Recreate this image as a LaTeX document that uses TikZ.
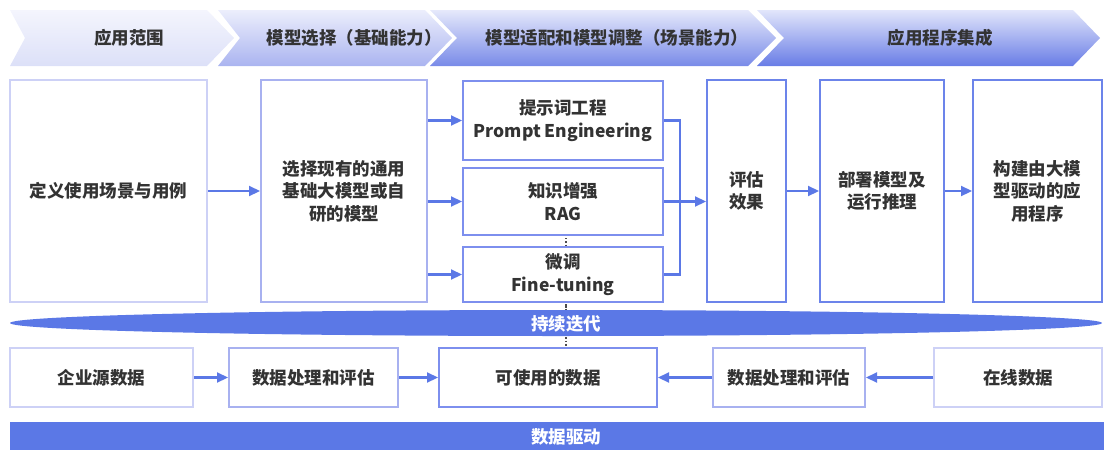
\documentclass[tikz,border=0pt]{standalone}
\usepackage{fontspec}
\setmainfont{Noto Sans CJK SC}
\usetikzlibrary{arrows.meta,calc}
\definecolor{txt}{HTML}{333333}
\definecolor{mainblue}{HTML}{5B78E6}
\definecolor{bdA}{HTML}{CDD1F6}
\definecolor{bdB}{HTML}{A8B1F0}
\definecolor{bdC}{HTML}{7D8FEE}
\definecolor{bdD}{HTML}{6C84EA}
\begin{document}
\begin{tikzpicture}[x=1pt,y=-1pt,
  every node/.style={font=\fontsize{17.5}{22.5}\selectfont\bfseries, text=txt, align=center, inner sep=0pt},
  box/.style={draw=#1, line width=2pt, fill=white, rectangle},
  conn/.style={draw=mainblue, line width=2.2pt},
  arr/.style={conn, -{Triangle[length=11pt,width=10pt]}},
  band/.style={fill=mainblue, draw=none},
  bandtext/.style={text=white, font=\fontsize{17.5}{20}\selectfont\bfseries}
]
\useasboundingbox (0,0) rectangle (1104,450);
% header chevrons
\shade[top color={rgb,255:red,244;green,245;blue,253}, bottom color={rgb,255:red,220;green,224;blue,248}]
  (10,10) -- (207,10) -- (234,38) -- (207,66) -- (10,66) -- (25,38) -- cycle;
\shade[top color={rgb,255:red,236;green,238;blue,252}, bottom color={rgb,255:red,170;green,180;blue,240}]
  (218,10) -- (425,10) -- (452,38) -- (425,66) -- (218,66) -- (240,38) -- cycle;
\shade[top color={rgb,255:red,230;green,233;blue,251}, bottom color={rgb,255:red,120;green,138;blue,232}]
  (430,10) -- (748,10) -- (776,38) -- (748,66) -- (430,66) -- (457,38) -- cycle;
\shade[top color={rgb,255:red,226;green,230;blue,251}, bottom color={rgb,255:red,104;green,124;blue,230}]
  (757,10) -- (1073,10) -- (1100,38) -- (1073,66) -- (757,66) -- (784,38) -- cycle;
\node (h1) at (129,38) {应用范围};
\node (h2) at (354,38) {模型选择（基础能力）};
\node (h3) at (617,38) {模型适配和模型调整（场景能力）};
\node (h4) at (940,38) {应用程序集成};
% bottom bar
\fill[band] (10,422) rectangle (1104,450);
\node[bandtext] (drv) at (566,437) {数据驱动};
% dotted iteration line (behind)
\coordinate (dtop) at (566,235);
\coordinate (dbot) at (566,348);
\draw[line width=1.2pt, dotted, black!70] (dtop) -- (dbot);
% main row
\node[box=bdA, minimum width=197pt, minimum height=222pt] (A) at (108.5,191) {定义使用场景与用例};
\node[box=bdB, minimum width=166pt, minimum height=222pt] (B) at (344,191) {选择现有的通用\\基础大模型或自\\研的模型};
\node[box=bdC, minimum width=200pt, minimum height=79pt] (PE) at (563,120.5) {提示词工程\\Prompt Engineering};
\node[box=bdC, minimum width=200pt, minimum height=67pt] (RAG) at (563,201.5) {知识增强\\RAG};
\node[box=bdC, minimum width=200pt, minimum height=55pt] (FT) at (563,274.5) {微调\\Fine-tuning};
\node[box=bdD, minimum width=79pt, minimum height=222pt] (EV) at (746.5,191) {评估\\效果};
\node[box=bdD, minimum width=124pt, minimum height=222pt] (DP) at (882,191) {部署模型及\\运行推理};
\node[box=bdD, minimum width=129pt, minimum height=222pt] (BD) at (1037.5,191) {构建由大模\\型驱动的应\\用程序};
% iteration band
\fill[band] (556,323) ellipse [x radius=546, y radius=13];
\node[bandtext] (it) at (566,324) {持续迭代};
\draw[line width=1.2pt, dotted, black!70] (566,304) -- (566,309);
\draw[line width=1.2pt, dotted, black!70] (566,338) -- (566,347);
% bottom row
\node[box=bdA, minimum width=183pt, minimum height=59pt] (S1) at (101.5,377.5) {企业源数据};
\node[box=bdB, minimum width=169pt, minimum height=59pt] (P1) at (313.5,377.5) {数据处理和评估};
\node[box=bdC, minimum width=218pt, minimum height=59pt] (U) at (548,377.5) {可使用的数据};
\node[box=bdB, minimum width=152pt, minimum height=59pt] (P2) at (789,377.5) {数据处理和评估};
\node[box=bdA, minimum width=168pt, minimum height=59pt] (O) at (1018,377.5) {在线数据};
% connectors
\draw[arr] (A.east) -- (B.west);
\draw[arr] (B.east |- PE) -- (PE.west);
\draw[arr] (B.east |- RAG) -- (RAG.west);
\draw[arr] (B.east |- FT) -- (FT.west);
\draw[conn] (PE.east) -- ++(16,0) |- (FT.east);
\draw[arr] (RAG.east) -- (EV.west |- RAG.east);
\draw[arr] (EV.east) -- (DP.west);
\draw[arr] (DP.east) -- (BD.west);
\draw[arr] (S1.east) -- (P1.west);
\draw[arr] (P1.east) -- (U.west);
\draw[arr] (P2.west) -- (U.east);
\draw[arr] (O.west) -- (P2.east);
\end{tikzpicture}
\end{document}
